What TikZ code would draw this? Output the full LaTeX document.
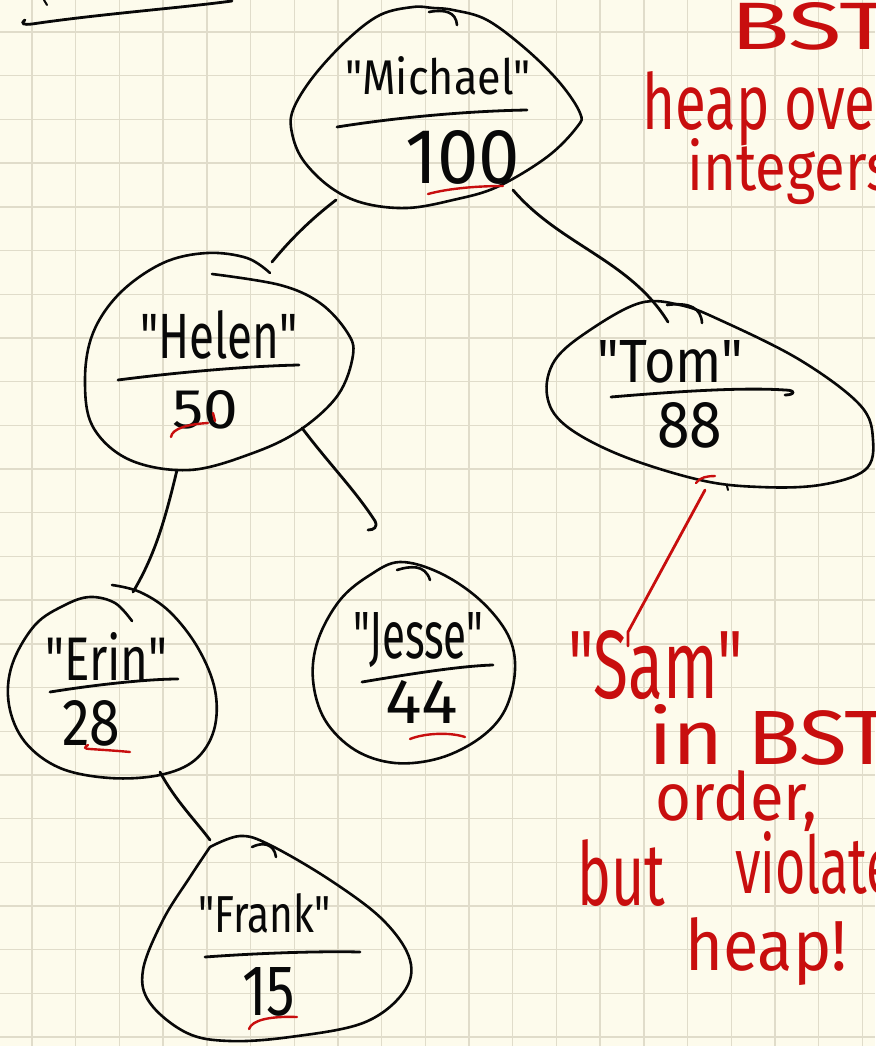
\documentclass[tikz,border=0pt]{standalone}
\usepackage{fontspec}
\setmainfont{Fira Sans}[Ligatures=TeXOff]
\newcommand\hsz[1]{\fontsize{#1}{#1}\selectfont}
% fit a handwritten word into a box of given width and height (pt)
\newcommand\fitto[3]{\resizebox{#1pt}{#2pt}{\hsz{40}#3}}
\definecolor{paper}{RGB}{253,251,236}
\definecolor{gridc}{RGB}{224,220,202}
\definecolor{ink}{RGB}{8,8,8}
\definecolor{redink}{RGB}{200,14,14}

\begin{document}
\begin{tikzpicture}[x=1pt,y=-1pt,
  blob/.style={draw=ink, line width=2.6pt, line cap=round, line join=round},
  edge/.style={draw=ink, line width=2.8pt, line cap=round},
  bar/.style={draw=ink, line width=2.8pt, line cap=round},
  word/.style={inner sep=0pt, anchor=base west, text=ink},
  note/.style={inner sep=0pt, anchor=base west, text=redink},
  redmark/.style={draw=redink, line width=2.4pt, line cap=round}]

% paper
\fill[paper] (0,0) rectangle (875,1046);
\useasboundingbox (0,0) rectangle (875,1046);
\clip (0,0) rectangle (875,1046);
\foreach \i in {0,...,19}
  \draw[gridc, line width=1.4pt] ({32+43.7*\i},0) -- ++(0,1046);
\foreach \i in {0,...,23}
  \draw[gridc, line width=1.4pt] (0,{32+43.7*\i}) -- ++(875,0);

% leftover stroke at the top left
\draw[bar] (25,20) .. controls (20,24) and (24,25) .. (32,24)
  .. controls (100,14) and (180,8) .. (232,1);
\draw[bar, line width=2pt] (44,0) -- (47,5);

% ---------- Michael / 100 ----------
\draw[blob] plot[smooth cycle, tension=0.6] coordinates {
  (413,7) (380,15) (347,40) (313,77) (293,110) (292,133) (303,160)
  (330,187) (363,203) (407,208) (453,200) (497,187) (547,157)
  (577,127) (580,113) (560,83) (527,50) (487,20) (453,10) (433,8)};
\draw[blob] (429,12) .. controls (445,9) and (456,12) .. (457,25);
\node[word] (michael) at (345,95) {\fitto{185}{38}{"Michael"}};
\draw[bar] (337,127) .. controls (400,117) and (470,111) .. (527,110);
\node[word] (v100) at (405,183) {\fitto{115}{53}{100}};
\draw[redmark] (428,194) .. controls (450,188) and (480,186) .. (503,186);

% ---------- Helen / 50 ----------
\draw[blob] plot[smooth, tension=0.6] coordinates {
  (270,273) (247,258) (207,253) (163,263) (120,293) (93,333) (85,380)
  (93,427) (130,460) (190,470) (253,453) (300,430) (338,395) (353,355)
  (347,332) (320,303) (280,285) (212,274)};
\node[word] (helen) at (140,358) {\fitto{157}{48}{"Helen"}};
\draw[bar] (118,380) .. controls (180,372) and (250,366) .. (299,365);
\node[word] (v50) at (172,428) {\fitto{66}{38}{50}};
\draw[redmark] (171,437) .. controls (172,428) and (190,424) .. (208,423);
\draw[redmark] (213,413) -- (215,421);

% ---------- Tom / 88 ----------
\draw[blob] plot[smooth cycle, tension=0.6] coordinates {
  (640,303) (590,330) (555,360) (547,395) (565,425) (620,455) (700,480)
  (760,487) (820,485) (865,470) (873,440) (860,405) (800,360) (720,320)
  (680,305)};
\draw[blob] (667,305) .. controls (690,302) and (701,308) .. (702,323);
\node[word] (tom) at (597,382) {\fitto{146}{42}{"Tom"}};
\draw[bar] (611,397) .. controls (670,392) and (740,387) .. (785,390)
  .. controls (796,390) and (795,395) .. (785,395);
\node[word] (v88) at (657,447) {\fitto{65}{45}{88}};
\draw[redmark] (696,483) .. controls (700,477) and (708,476) .. (715,476);
\draw[blob, line width=2pt] (727,486) -- (728,490);

% ---------- Erin / 28 ----------
\draw[blob] plot[smooth, tension=0.6] coordinates {
  (112,585) (140,592) (170,612) (198,648) (215,690) (214,730) (195,760)
  (160,775) (110,778) (60,768) (25,742) (9,705) (12,665) (35,625)
  (65,605) (90,597) (115,603) (132,621)};
\node[word] (erin) at (45,680) {\fitto{122}{48}{"Erin"}};
\draw[bar] (50,692) .. controls (100,684) and (150,679) .. (178,679);
\node[word] (v28) at (62,745) {\fitto{58}{45}{28}};
\draw[redmark] (88,745) .. controls (84,747) and (84,749) .. (90,749)
  .. controls (105,750) and (120,751) .. (130,752);

% ---------- Jesse / 44 ----------
\draw[blob] plot[smooth cycle, tension=0.6] coordinates {
  (400,562) (440,573) (480,600) (508,635) (515,670) (505,710) (480,738)
  (440,758) (395,763) (355,750) (325,720) (313,680) (318,640) (340,600)
  (370,575)};
\draw[blob] (397,570) .. controls (410,566) and (425,564) .. (430,580);
\node[word] (jesse) at (353,658) {\fitto{130}{46}{"Jesse"}};
\draw[bar] (362,682) .. controls (410,674) and (460,666) .. (493,665);
\node[word] (v44) at (385,723) {\fitto{73}{43}{44}};
\draw[redmark] (410,739) .. controls (425,733) and (450,732) .. (465,737);

% ---------- Frank / 15 ----------
\draw[blob] plot[smooth, tension=0.6] coordinates {
  (210,847) (240,836) (270,845) (330,880) (383,920) (410,960) (403,993)
  (363,1023) (290,1037) (230,1041) (187,1033) (150,1003) (143,970)
  (163,920) (190,877) (210,847)};
\draw[blob] (252,847) .. controls (262,842) and (274,843) .. (276,857);
\node[word] (frank) at (198,932) {\fitto{132}{39}{"Frank"}};
\draw[bar] (205,957) .. controls (260,953) and (320,951) .. (360,952);
\node[word] (v15) at (242,1015) {\fitto{53}{48}{15}};
\draw[redmark] (249,1029) .. controls (252,1020) and (270,1016) .. (297,1017);

% ---------- tree edges ----------
\coordinate (michael-sw) at (336,200);
\coordinate (michael-se) at (513,190);
\coordinate (helen-ne) at (272,262);
\coordinate (helen-s) at (177,470);
\coordinate (helen-se) at (302,428);
\coordinate (tom-n) at (668,322);
\coordinate (erin-n) at (133,592);
\coordinate (erin-s) at (160,772);
\coordinate (jesse-hook) at (375,521);
\coordinate (frank-n) at (210,840);
\draw[edge] (michael-sw) .. controls (310,220) and (290,240) .. (helen-ne);
\draw[edge] (michael-se) .. controls (560,245) and (630,260) .. (tom-n);
\draw[edge] (helen-s) .. controls (165,520) and (155,555) .. (erin-n);
\draw[edge] (helen-se) .. controls (330,465) and (355,490) .. (jesse-hook)
  .. controls (378,527) and (374,530) .. (368,530);
\draw[edge] (erin-s) .. controls (175,800) and (195,820) .. (frank-n);

% ---------- red notes ----------
\node[note] (bst) at (730,50) {\fitto{160}{47}{BST}};
\node[note] (heapover) at (642,130) {\fitto{255}{58}{heap over}};
\node[note] (integers) at (687,190) {\fitto{205}{52}{integers}};

\coordinate (tom-s) at (705,490);
\coordinate (sam-n) at (628,632);
\draw[redmark, line width=2.8pt] (tom-s) -- (sam-n) -- (628,646);
\node[note] (sam) at (568,698) {\fitto{175}{68}{"Sam"}};
\node[note] (inbst) at (648,764) {\fitto{242}{60}{in BST}};
\node[note] (order) at (655,820) {\fitto{162}{50}{order,}};
\node[note] (but) at (577,905) {\fitto{88}{66}{but}};
\node[note] (violate) at (735,893) {\fitto{160}{62}{violate}};
\node[note] (heap) at (685,970) {\fitto{162}{53}{heap!}};
\end{tikzpicture}
\end{document}
